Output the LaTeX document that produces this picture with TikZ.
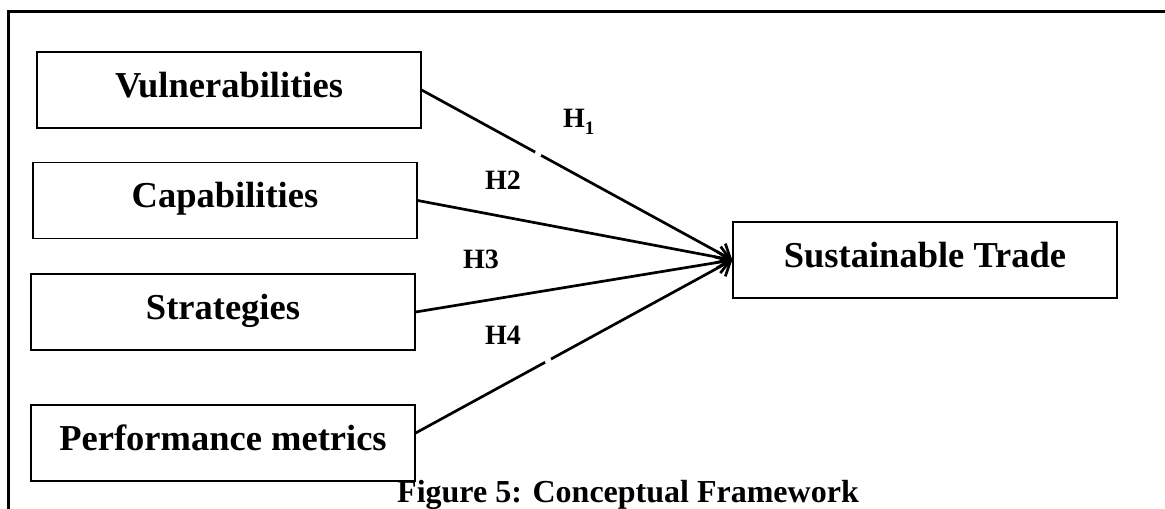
\documentclass[tikz,border=0pt]{standalone}
\usepackage{fontspec}
\setmainfont{Liberation Serif}
\usetikzlibrary{arrows.meta}
\begin{document}
\begin{tikzpicture}[x=1bp,y=-1bp,
  box/.style={draw, line width=1.3bp, minimum width=384bp, minimum height=76bp,
    inner sep=0pt, text height=26bp, text depth=11bp,
    font=\fontsize{36.5bp}{40bp}\selectfont\bfseries},
  hyp/.style={anchor=base west, inner sep=0pt, font=\fontsize{28bp}{30bp}\selectfont\bfseries},
  link/.style={line width=2.7bp, -{Straight Barb[length=12bp,width=22bp,line width=2.7bp]}},
  frame/.style={line width=3bp}]
\useasboundingbox (0,0) rectangle (1165,509);
\clip (0,0) rectangle (1165,509);
% outer frame
\draw[frame] (8.5,530) -- (8.5,11.7) -- (1180,11.7);
% boxes
\node[box] (v) at (229,90) {Vulnerabilities};
\node[box] (c) at (225,200.5) {Capabilities};
\node[box] (s) at (223,312) {Strategies};
\node[box] (p) at (223,443) {Performance metrics};
\node[box] (t) at (925,260) {Sustainable Trade};
% connectors
\draw[link] (v.east) -- coordinate[pos=0.375] (g1) (t.west);
\draw[link] (c.east) -- (t.west);
\draw[link] (s.east) -- (t.west);
\draw[link] ([yshift=10bp]p.east) -- coordinate[pos=0.418] (g4) (t.west);
\fill[white] (g1) circle (3.5bp);
\fill[white] (g4) circle (3.5bp);
% labels
\node[hyp] (h1) at (563,128) {H\raisebox{-0.22em}{\fontsize{19bp}{20bp}\selectfont 1}};
\node[hyp] (h2) at (485,190) {H2};
\node[hyp] (h3) at (463,269) {H3};
\node[hyp] (h4) at (485,345) {H4};
% caption
\node[anchor=base, inner sep=0pt, font=\fontsize{32bp}{34bp}\selectfont\bfseries] (cap) at (628,502) {Figure 5: Conceptual Framework};
\end{tikzpicture}
\end{document}
